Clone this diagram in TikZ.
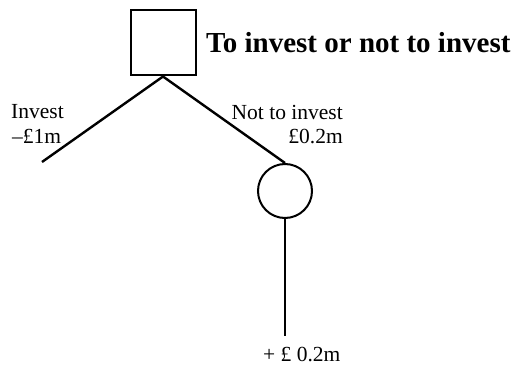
\documentclass[tikz,border=0pt]{standalone}
\usepackage{fontspec}
\setmainfont{Liberation Serif}
\begin{document}
\begin{tikzpicture}[x=1pt,y=-1pt,
  lbl/.style={font=\fontsize{21.5}{24}\selectfont, inner sep=0pt},
  branch/.style={line width=2.4pt, black},
  shapeline/.style={line width=2pt, black}]
\useasboundingbox (0,0) rectangle (517,369);
\node[shapeline, draw, minimum size=65pt, inner sep=0pt, anchor=north west] (dec) at (129.5,9.5) {};
\node[shapeline, draw, circle, minimum size=54pt, inner sep=0pt] (ch) at (285,191) {};
\coordinate (lend) at (42,162);
\coordinate (vend) at (285,336);
\draw[branch] (dec.south) -- (lend);
\draw[branch] (dec.south) -- (ch.north);
\draw[branch] (ch.south) -- (vend);
\node[font=\fontsize{29}{32}\selectfont\bfseries, inner sep=0pt, anchor=base west] (title) at (206,53) {To invest or not to invest};
\node[lbl, anchor=base west] (inv) at (11,118.5) {Invest};
\node[lbl, anchor=base west] (invv) at (12,143.5) {\char"2013£1m};
\node[lbl, anchor=base east] (not) at (343,119) {Not to invest};
\node[lbl, anchor=base east] (notv) at (343,143.5) {£0.2m};
\node[lbl, anchor=base west] (res) at (263,361.5) {+ £ 0.2m};
\end{tikzpicture}
\end{document}
